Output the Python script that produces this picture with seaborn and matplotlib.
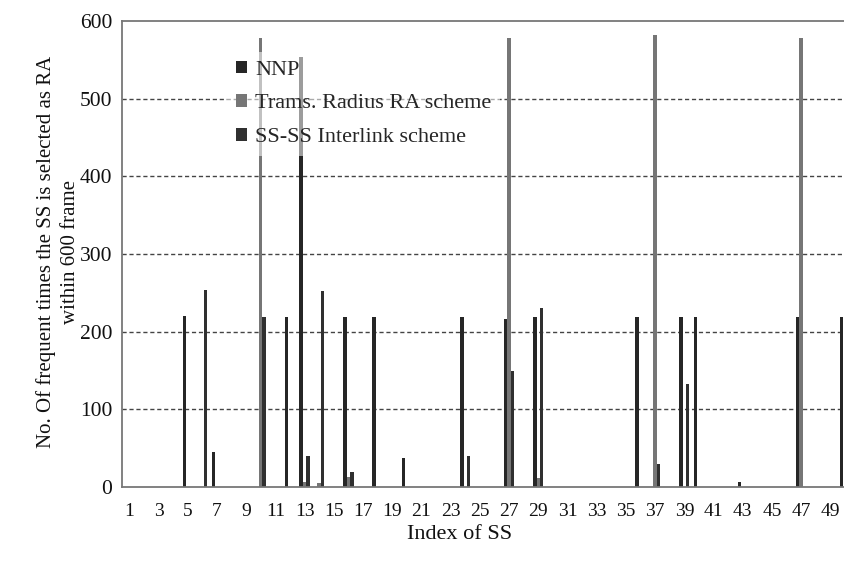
import matplotlib
matplotlib.use("Agg")
import matplotlib.pyplot as plt
import seaborn as sns
import pandas as pd
from matplotlib.ticker import FixedLocator

ss_index = [str(i) for i in range(1, 51)]
series_names = ["NNP", "Trams. Radius RA scheme", "SS-SS Interlink scheme"]

nnp = [0, 0, 0, 0, 220, 0, 45, 0, 0, 0,
       0, 219, 554, 0, 0, 219, 0, 219, 0, 37,
       0, 0, 0, 219, 0, 0, 216, 0, 219, 0,
       0, 0, 0, 0, 0, 219, 0, 0, 219, 219,
       0, 0, 6, 0, 0, 0, 219, 0, 0, 219]
trams = [0, 0, 0, 0, 0, 0, 0, 0, 0, 578,
         0, 0, 6, 5, 0, 13, 0, 0, 0, 0,
         0, 0, 0, 0, 0, 0, 578, 0, 12, 0,
         0, 0, 0, 0, 0, 0, 582, 0, 0, 0,
         0, 0, 0, 0, 0, 0, 578, 0, 0, 0]
interlink = [0, 0, 0, 0, 0, 254, 0, 0, 0, 219,
             0, 0, 40, 253, 0, 19, 0, 0, 0, 0,
             0, 0, 0, 40, 0, 0, 150, 0, 231, 0,
             0, 0, 0, 0, 0, 0, 30, 0, 133, 0,
             0, 0, 0, 0, 0, 0, 0, 0, 0, 0]
x_tick_labels = [str(i) for i in range(1, 50, 2)]
y_ticks = [0, 100, 200, 300, 400, 500, 600]

rows = []
for name, vals in zip(series_names, [nnp, trams, interlink]):
    for idx, v in zip(ss_index, vals):
        rows.append({"SS": idx, "Scheme": name, "Count": v})
df = pd.DataFrame(rows)

sns.set_style("white")
plt.rcParams["font.family"] = ["Liberation Serif", "DejaVu Serif"]

fig = plt.figure(figsize=(8.45, 5.61), dpi=100)
ax = fig.add_axes([122 / 845, 74 / 561, 723 / 845, 466 / 561])

palette = {"NNP": "#262626", "Trams. Radius RA scheme": "#767676",
           "SS-SS Interlink scheme": "#303030"}
sns.barplot(data=df, x="SS", y="Count", hue="Scheme", order=ss_index,
            hue_order=series_names, palette=palette, width=0.7,
            linewidth=0, saturation=1, ax=ax, errorbar=None)

ax.set_xlim(-0.5, 49.0)
ax.set_ylim(0, 600)
ax.set_yticks(y_ticks)
ax.set_yticklabels([str(v) for v in y_ticks], fontsize=15.5)
ax.set_xticks(list(range(0, 50, 2)))
ax.set_xticklabels(x_tick_labels, fontsize=14)
ax.xaxis.set_minor_locator(FixedLocator([i - 0.5 for i in range(0, 50)]))
ax.tick_params(axis="x", which="major", length=0, pad=11.5, colors="#111111")
ax.tick_params(axis="x", which="minor", length=5, width=1.2, color="#777777", direction="out")
ax.tick_params(axis="y", which="major", length=8, width=1, color="#777777",
               direction="inout", pad=3, labelcolor="#111111")

for y in [100, 200, 300, 400, 500]:
    ax.axhline(y, color="#444444", linestyle=(0, (3, 2)), linewidth=1.0, zorder=0)

for s in ["left", "bottom", "top"]:
    ax.spines[s].set_visible(True)
    ax.spines[s].set_color("#777777")
    ax.spines[s].set_linewidth(1.3)
ax.spines["right"].set_visible(False)

ax.set_xlabel("Index of SS", fontsize=16, color="#111111")
ax.xaxis.set_label_coords(0.467, -0.082)
ax.set_ylabel("No. Of frequent times the SS is selected as RA\nwithin 600 frame",
              fontsize=15, color="#111111", multialignment="center", linespacing=1.35)
ax.yaxis.set_label_coords(-0.058, 0.505)

handles, labels = ax.get_legend_handles_labels()
leg = ax.legend(handles, labels, loc="upper left", bbox_to_anchor=(0.13, 0.958),
                fontsize=16, frameon=True, framealpha=0.55, edgecolor="none",
                facecolor="white", handlelength=0.5, handleheight=0.5,
                handletextpad=0.35, labelspacing=0.65, borderpad=0.4, fancybox=False)

fig.savefig("out.png", dpi=100, facecolor="white")
